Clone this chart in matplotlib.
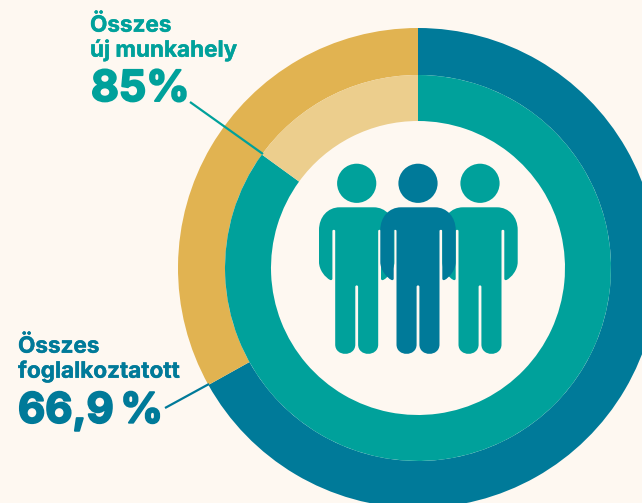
import matplotlib
matplotlib.use("Agg")
import matplotlib.pyplot as plt
import matplotlib.patheffects as pe
from matplotlib.path import Path
from matplotlib.patches import PathPatch, Circle

WIDTH, HEIGHT = 642, 503

# Shares shown on the two rings, in percent
outer_share = 66.9
inner_share = 85.0
outer_title = ["Összes", "foglalkoztatott"]
inner_title = ["Összes", "új munkahely"]
outer_value = "66,9\u2009%"
inner_value = "85%"

BG = "#FEF8F1"
TEAL = "#00A19B"
BLUE = "#007A99"
GOLD = "#E1B351"
PALE_GOLD = "#ECCE8D"
FONT = ["Inter", "DejaVu Sans"]

fig = plt.figure(figsize=(WIDTH / 100, HEIGHT / 100), dpi=100, facecolor=BG)
ax = fig.add_axes([0, 0, 1, 1])


def ypx(y):
    """Convert a top-down pixel row to the axes' bottom-up coordinate."""
    return HEIGHT - y


center = (418, ypx(268))
ax.pie([outer_share, 100 - outer_share], colors=[BLUE, GOLD], radius=240, center=center,
       startangle=90, counterclock=False, wedgeprops=dict(width=47, linewidth=0))
ax.pie([inner_share, 100 - inner_share], colors=[TEAL, PALE_GOLD], radius=193, center=center,
       startangle=90, counterclock=False, wedgeprops=dict(width=46, linewidth=0))

# Left half of the figure's body as segments relative to its centre column:
# shoulder, outer arm, arm slit, leg, foot, slit between the legs.
BODY_START = (0, 207.3)
BODY_LEFT = [
    [(-17, 207.3)],
    [(-29, 207.3), (-37.7, 217), (-37.7, 230)],
    [(-37.7, 262)],
    [(-37.7, 270), (-31.5, 277.5), (-26.5, 280)],
    [(-25.2, 280.4), (-24.3, 279.8), (-24.3, 278.5)],
    [(-24.3, 231)],
    [(-24.3, 229.4), (-21.5, 229.4), (-21.5, 231)],
    [(-21.5, 344.5)],
    [(-21.5, 357), (-1.4, 357), (-1.4, 344.5)],
    [(-1.4, 287)],
    [(-1.4, 285.8), (-0.7, 285.4), (0, 285.4)],
]


def body_path(cx):
    """Trace the left half forward, then the same segments mirrored and reversed."""
    verts, codes = [BODY_START], [Path.MOVETO]
    for seg in BODY_LEFT:
        verts += seg
        codes += [Path.LINETO] if len(seg) == 1 else [Path.CURVE4] * 3
    anchors = [BODY_START] + [seg[-1] for seg in BODY_LEFT]
    for i in range(len(BODY_LEFT) - 1, -1, -1):
        seg = BODY_LEFT[i]
        target = (-anchors[i][0], anchors[i][1])
        if len(seg) == 1:
            verts.append(target)
            codes.append(Path.LINETO)
        else:
            verts += [(-seg[1][0], seg[1][1]), (-seg[0][0], seg[0][1]), target]
            codes += [Path.CURVE4] * 3
    verts.append(BODY_START)
    codes.append(Path.CLOSEPOLY)
    return Path([(cx + x, ypx(y)) for x, y in verts], codes)


def person(cx, color, z):
    """Draw a standing figure centred on column cx."""
    ax.add_patch(Circle((cx, ypx(183.3)), 19.6, fc=color, ec="none", zorder=z))
    ax.add_patch(PathPatch(body_path(cx), fc=color, ec="none", zorder=z))


person(356.7, TEAL, 3)
person(480.0, TEAL, 3)
person(418.0, BLUE, 4)

# Leader lines from the percentages to the ring boundaries
ax.plot([190, 263], [ypx(102), ypx(154)], color=TEAL, lw=1.6, zorder=5, solid_capstyle="butt")
ax.plot([165, 209], [ypx(408), ypx(384)], color=BLUE, lw=1.6, zorder=5, solid_capstyle="butt")


def label(x, y, text, color, size, stroke):
    ax.text(x, ypx(y), text, color=color, family=FONT, weight="bold", fontsize=size,
            va="baseline", ha="left",
            path_effects=[pe.withStroke(linewidth=stroke, foreground=color)])


label(90, 31.7, inner_title[0], TEAL, 16.2, 0.3)
label(90, 56.7, inner_title[1], TEAL, 16.2, 0.3)
label(91, 101, inner_value, TEAL, 30.8, 1.4)
label(18, 352.7, outer_title[0], BLUE, 16.2, 0.3)
label(18, 377.7, outer_title[1], BLUE, 16.2, 0.3)
label(18, 422.7, outer_value, BLUE, 30.2, 1.4)

ax.set_xlim(0, WIDTH)
ax.set_ylim(0, HEIGHT)
ax.set_aspect("auto")
ax.axis("off")

fig.savefig("out.png", dpi=100, facecolor=BG)
